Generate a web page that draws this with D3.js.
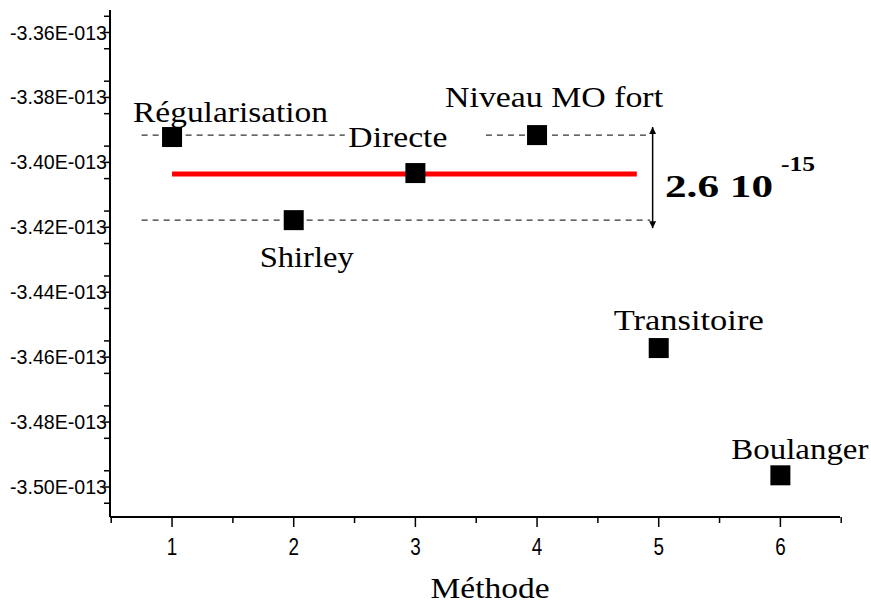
<!DOCTYPE html>
<html><head><meta charset="utf-8">
<script src="https://cdn.jsdelivr.net/npm/d3@7"></script>
<style>body{margin:0;background:#fff}</style>
</head><body>
<svg id="c" width="871" height="603"></svg>
<script>
const methods = [1, 2, 3, 4, 5, 6];
const names = ["Régularisation", "Shirley", "Directe", "Niveau MO fort", "Transitoire", "Boulanger"];
const values = [-3.3922e-13, -3.4178e-13, -3.4033e-13, -3.3916e-13, -3.4572e-13, -3.4964e-13];
const meanValue = -3.4036e-13;
const meanRange = [1, 4.82];
const upperBand = -3.3916e-13, lowerBand = -3.4178e-13;
const yTicks = [-3.36e-13, -3.38e-13, -3.40e-13, -3.42e-13, -3.44e-13, -3.46e-13, -3.48e-13, -3.50e-13];
const yTickLabels = ["-3.36E-013", "-3.38E-013", "-3.40E-013", "-3.42E-013", "-3.44E-013", "-3.46E-013", "-3.48E-013", "-3.50E-013"];
const xTicks = [1, 2, 3, 4, 5, 6];

const svg = d3.select("#c");
const x = d3.scaleLinear().domain([0.49, 6.49]).range([110, 840]);
const y = d3.scaleLinear().domain([-3.36e-13, -3.50e-13]).range([32.5, 487]);
const yMin = y.invert(517), yMax = y.invert(10);

// axes lines
svg.append("line").attr("x1", 110).attr("x2", 110).attr("y1", y(yMax)).attr("y2", y(yMin)).attr("stroke", "#000").attr("stroke-width", 2);
svg.append("line").attr("x1", x(0.49)).attr("x2", x(6.49)).attr("y1", 517).attr("y2", 517).attr("stroke", "#000").attr("stroke-width", 2);

// y ticks
const yMinor = d3.range(0, 16).map(i => -3.355e-13 - i * 0.01e-13).filter(v => v > yMin);
svg.selectAll(".ymin").data(yMinor).join("line")
  .attr("x1", 104).attr("x2", 110).attr("y1", d => y(d)).attr("y2", d => y(d)).attr("stroke", "#000").attr("stroke-width", 1.5);
svg.selectAll(".ymaj").data(yTicks).join("line")
  .attr("x1", 104).attr("x2", 110).attr("y1", d => y(d)).attr("y2", d => y(d)).attr("stroke", "#000").attr("stroke-width", 1.5);
svg.selectAll(".ylab").data(yTicks).join("text")
  .attr("x", 10).attr("y", d => y(d) + 7)
  .attr("textLength", 97).attr("lengthAdjust", "spacingAndGlyphs")
  .attr("font-family", "Liberation Sans").attr("font-size", 20)
  .text((d, i) => yTickLabels[i]);

// x ticks
const xMinor = d3.range(0.5, 6.6, 0.5);
svg.selectAll(".xt").data(xMinor).join("line")
  .attr("x1", d => x(d)).attr("x2", d => x(d)).attr("y1", 517).attr("y2", d => Number.isInteger(d) ? 527 : 523)
  .attr("stroke", "#000").attr("stroke-width", 1.5);
svg.selectAll(".xlab").data(xTicks).join("text")
  .attr("x", d => x(d)).attr("y", 555).attr("text-anchor", "middle")
  .attr("font-family", "Liberation Sans").attr("font-size", 23)
  .attr("transform", d => `translate(${x(d)},0) scale(0.82,1) translate(${-x(d)},0)`)
  .text(d => d);

const serif = "Liberation Serif";
svg.append("text").attr("x", 490).attr("y", 598).attr("text-anchor", "middle")
  .attr("textLength", 119).attr("lengthAdjust", "spacingAndGlyphs")
  .attr("font-family", serif).attr("font-size", 30).text("Méthode");

// dashed band lines
const dash = "6,5";
svg.append("line").attr("x1", x(0.75)).attr("x2", x(2.42)).attr("y1", y(upperBand)).attr("y2", y(upperBand))
  .attr("stroke", "#333").attr("stroke-dasharray", dash).attr("stroke-width", 1.2);
svg.append("line").attr("x1", x(3.58)).attr("x2", x(4.93)).attr("y1", y(upperBand)).attr("y2", y(upperBand))
  .attr("stroke", "#333").attr("stroke-dasharray", dash).attr("stroke-width", 1.2);
svg.append("line").attr("x1", x(0.75)).attr("x2", x(4.93)).attr("y1", y(lowerBand)).attr("y2", y(lowerBand))
  .attr("stroke", "#333").attr("stroke-dasharray", dash).attr("stroke-width", 1.2);

// red mean line
svg.append("line").attr("x1", x(meanRange[0])).attr("x2", x(meanRange[1])).attr("y1", y(meanValue)).attr("y2", y(meanValue))
  .attr("stroke", "#ff0000").attr("stroke-width", 5);

// arrow
const ax = x(4.95);
svg.append("defs").html(`<marker id="ah" viewBox="0 0 10 10" refX="10" refY="5" markerWidth="7" markerHeight="14" orient="auto-start-reverse" markerUnits="userSpaceOnUse"><path d="M0,0 L10,5 L0,10 z" fill="#000"/></marker>`);
svg.append("line").attr("x1", ax).attr("x2", ax).attr("y1", y(upperBand) - 8).attr("y2", y(lowerBand) + 8)
  .attr("stroke", "#000").attr("stroke-width", 1.5)
  .attr("marker-start", "url(#ah)").attr("marker-end", "url(#ah)");
svg.append("text").attr("x", 665).attr("y", 197).attr("font-family", serif).attr("font-weight", "bold").attr("font-size", 32)
  .attr("textLength", 108).attr("lengthAdjust", "spacingAndGlyphs").text("2.6 10");
svg.append("text").attr("x", 781).attr("y", 171).attr("font-family", serif).attr("font-weight", "bold").attr("font-size", 20)
  .attr("textLength", 34).attr("lengthAdjust", "spacingAndGlyphs").text("-15");

// points
svg.selectAll(".pt").data(methods).join("rect")
  .attr("x", d => x(d) - 10).attr("y", (d, i) => y(values[i]) - 10).attr("width", 20).attr("height", 20).attr("fill", "#000");

// point labels
const labelOffsets = [[58.5, -15], [13, 47], [-17.5, -26], [17, -28], [30, -18], [19.5, -16]];
const labelWidths = [195, 94, 99, 218, 150, 137];
svg.selectAll(".pl").data(methods).join("text")
  .attr("x", (d, i) => x(d) + labelOffsets[i][0]).attr("y", (d, i) => y(values[i]) + labelOffsets[i][1])
  .attr("text-anchor", "middle").attr("font-family", serif).attr("font-size", 30)
  .attr("textLength", (d, i) => labelWidths[i]).attr("lengthAdjust", "spacingAndGlyphs")
  .text((d, i) => names[i]);
</script>
</body></html>
